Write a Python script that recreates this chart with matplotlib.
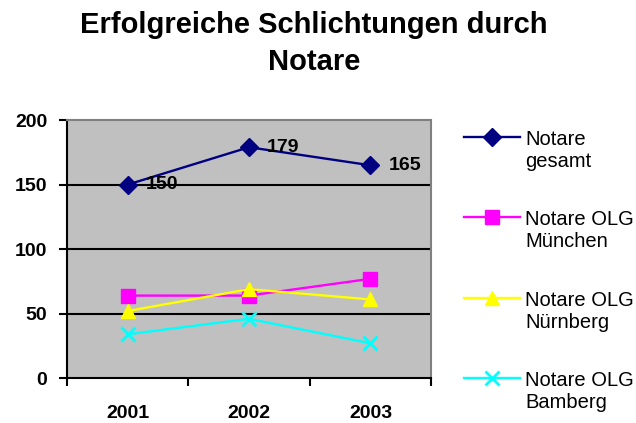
import matplotlib
matplotlib.use("Agg")
import matplotlib.pyplot as plt
from matplotlib.legend_handler import HandlerLine2D

plt.rcParams['font.family'] = ['Liberation Sans', 'DejaVu Sans']

years = ["2001", "2002", "2003"]
gesamt = [150, 179, 165]
muenchen = [64, 64, 77]
nuernberg = [52, 69, 61]
bamberg = [34, 46, 27]

labels = ["Notare\ngesamt", "Notare OLG\nMünchen", "Notare OLG\nNürnberg", "Notare OLG\nBamberg"]
colors = ["#000080", "#FF00FF", "#FFFF00", "#00FFFF"]
markers = ["D", "s", "^", "x"]
msizes = [9, 10, 10, 10]


class UpperLineHandler(HandlerLine2D):
    # put the legend symbol next to the first line of a two-line label
    def create_artists(self, legend, orig_handle, xdescent, ydescent,
                       width, height, fontsize, trans):
        return super().create_artists(legend, orig_handle, xdescent,
                                      ydescent - 1.4 * fontsize, width, height,
                                      fontsize, trans)


fig = plt.figure(figsize=(6.36, 4.23), dpi=100)
ax = fig.add_axes([0.105, 0.106, 0.573, 0.610])
ax.set_facecolor("#C0C0C0")

x = range(len(years))
series = [gesamt, muenchen, nuernberg, bamberg]
handles = []
for vals, lab, c, m, ms in zip(series, labels, colors, markers, msizes):
    h, = ax.plot(x, vals, color=c, marker=m, markersize=ms, linewidth=1.7,
                 markeredgewidth=2 if m == "x" else 1, label=lab, zorder=3)
    handles.append(h)

# data labels for the total
for i, v in enumerate(gesamt):
    ax.annotate(str(v), (i, v), xytext=(13, 0), textcoords="offset points",
                fontsize=14, fontweight="bold", va="center", ha="left", zorder=4)

ax.set_ylim(0, 200)
ax.set_xlim(-0.5, 2.5)
ax.set_yticks([0, 50, 100, 150, 200])
for t in [50, 100, 150]:
    ax.axhline(t, color="black", linewidth=1.5, zorder=1)

ax.set_xticks(list(x))
ax.set_xticklabels(years, fontsize=14, fontweight="bold")
ax.tick_params(axis="x", length=0, pad=19)
ax.set_xticks([-0.5, 0.5, 1.5, 2.5], minor=True)
ax.tick_params(axis="x", which="minor", length=6, width=1.5, direction="out")
for lbl in ax.get_yticklabels():
    lbl.set_fontweight("bold")
    lbl.set_fontsize(14)
ax.tick_params(axis="y", length=6, width=1.5, direction="out", pad=8)

ax.spines["left"].set_linewidth(1.5)
ax.spines["bottom"].set_linewidth(1.5)
ax.spines["top"].set_color("#808080")
ax.spines["right"].set_color("#808080")
ax.spines["top"].set_linewidth(1.5)
ax.spines["right"].set_linewidth(1.5)

fig.text(0.494, 1 - 33 / 423, "Erfolgreiche Schlichtungen durch", ha="center",
         va="baseline", fontsize=21, fontweight="bold")
fig.text(0.494, 1 - 70 / 423, "Notare", ha="center", va="baseline",
         fontsize=21, fontweight="bold")

leg = fig.legend(handles=handles, loc="upper left", bbox_to_anchor=(464 / 636, 1 - 130 / 423),
                 frameon=False, fontsize=14.5, handlelength=2.78, labelspacing=1.96,
                 handletextpad=0.25, borderpad=0, borderaxespad=0,
                 handler_map={h: UpperLineHandler() for h in handles})
for t in leg.get_texts():
    t.set_linespacing(1.2)

fig.savefig("out.png", dpi=100)
